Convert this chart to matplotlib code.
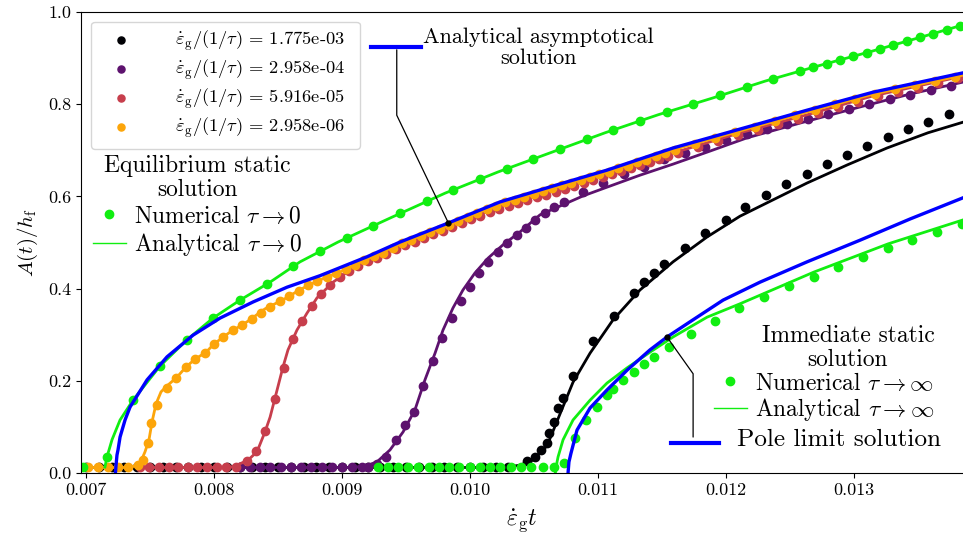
import numpy as np
import matplotlib
matplotlib.use("Agg")
import matplotlib.pyplot as plt
from matplotlib.lines import Line2D
from matplotlib.ticker import FormatStrFormatter

plt.rcParams.update({
    "font.family": "serif",
    "font.serif": ["cmr10"],
    "mathtext.fontset": "cm",
    "axes.unicode_minus": False,
    "font.size": 14,
})

# all strain values (x) are written in units of 1e-3
rates = ["1.775e-03", "2.958e-04", "5.916e-05", "2.958e-06"]

# --- 1.775e-03 (black)
black_num_t = [7.0, 7.1, 7.2, 7.3, 7.4, 7.5, 7.6, 7.7, 7.8, 7.9, 8.0, 8.1, 8.2, 8.3, 8.4, 8.5,
               8.6, 8.7, 8.8, 8.9, 9.0, 9.1, 9.2, 9.3, 9.4, 9.5, 9.6, 9.7, 9.8, 9.9, 10.0, 10.1,
               10.2, 10.3, 10.443, 10.508, 10.555, 10.599, 10.620, 10.656, 10.690, 10.724, 10.802,
               10.959, 11.125, 11.284, 11.362, 11.440, 11.518, 11.680, 11.836, 11.998, 12.148,
               12.310, 12.469, 12.630, 12.787, 12.948, 13.104, 13.263, 13.424, 13.580, 13.742]
black_num_A = [0.012, 0.012, 0.012, 0.012, 0.012, 0.012, 0.012, 0.012, 0.012, 0.012, 0.012,
               0.012, 0.012, 0.012, 0.012, 0.012, 0.012, 0.012, 0.012, 0.012, 0.012, 0.012,
               0.012, 0.012, 0.012, 0.012, 0.012, 0.012, 0.012, 0.012, 0.012, 0.012, 0.012,
               0.012, 0.025, 0.035, 0.050, 0.064, 0.087, 0.111, 0.140, 0.162, 0.210, 0.287,
               0.340, 0.391, 0.415, 0.433, 0.453, 0.487, 0.520, 0.549, 0.576, 0.603, 0.626,
               0.649, 0.670, 0.690, 0.709, 0.728, 0.746, 0.762, 0.778]
black_ana_t = [6.96, 10.273, 10.391, 10.492, 10.602, 10.703, 10.805, 10.938, 11.117, 11.328,
               11.586, 11.852, 12.109, 12.633, 12.945, 13.258, 13.578, 13.852]
black_ana_A = [0.012, 0.012, 0.017, 0.028, 0.059, 0.128, 0.197, 0.260, 0.332, 0.397, 0.458,
               0.512, 0.557, 0.629, 0.668, 0.705, 0.738, 0.761]

# --- 2.958e-04 (purple)
purple_num_t = [8.20, 8.28, 8.36, 8.44, 8.52, 8.60, 8.68, 8.76, 8.84, 8.92, 9.00, 9.08, 9.16,
                9.203, 9.273, 9.344, 9.422, 9.492, 9.563, 9.633, 9.711, 9.781, 9.859, 9.930,
                10.000, 10.070, 10.141, 10.219, 10.289, 10.367, 10.438, 10.508, 10.586, 10.656,
                10.734, 10.883, 11.039, 11.203, 11.359, 11.516, 11.680, 11.836, 11.998, 12.164,
                12.320, 12.477, 12.641, 12.797, 12.961, 13.117, 13.281, 13.438, 13.602, 13.758]
purple_num_A = [0.012, 0.012, 0.012, 0.012, 0.012, 0.012, 0.012, 0.012, 0.012, 0.012, 0.012,
                0.012, 0.012, 0.013, 0.020, 0.035, 0.072, 0.104, 0.132, 0.189, 0.243, 0.293,
                0.336, 0.373, 0.403, 0.434, 0.458, 0.479, 0.499, 0.516, 0.531, 0.549, 0.564,
                0.577, 0.588, 0.610, 0.629, 0.649, 0.664, 0.681, 0.694, 0.707, 0.722, 0.735,
                0.746, 0.757, 0.768, 0.779, 0.790, 0.800, 0.811, 0.820, 0.831, 0.839]
purple_ana_t = [8.15, 9.063, 9.180, 9.273, 9.375, 9.477, 9.570, 9.648, 9.727, 9.789, 9.867,
                9.945, 10.039, 10.141, 10.258, 10.391, 10.547, 10.703, 10.883, 11.070, 11.328,
                11.586, 11.852, 12.164, 12.578, 13.047, 13.438, 13.852]
purple_ana_A = [0.012, 0.012, 0.015, 0.024, 0.050, 0.089, 0.137, 0.202, 0.260, 0.310, 0.358,
                0.397, 0.434, 0.466, 0.495, 0.523, 0.560, 0.579, 0.601, 0.620, 0.646, 0.670,
                0.696, 0.727, 0.759, 0.794, 0.822, 0.848]

# --- 5.916e-05 (red)
red_num_t = [7.42, 7.495, 7.57, 7.645, 7.72, 7.795, 7.87, 7.945, 8.02, 8.095, 8.17,
             8.255, 8.328, 8.401, 8.473, 8.546, 8.619, 8.691, 8.764, 8.837, 8.909, 8.982,
             9.055, 9.127, 9.200, 9.273, 9.347, 9.420, 9.494, 9.567, 9.641, 9.714, 9.788,
             9.861, 9.934, 10.008, 10.081, 10.155, 10.228, 10.302, 10.375, 10.448, 10.522,
             10.595, 10.669, 10.742, 10.816, 10.889, 10.963, 11.036, 11.109, 11.183, 11.256,
             11.330, 11.403, 11.477, 11.550, 11.623, 11.781, 11.938, 12.094, 12.250, 12.406,
             12.563, 12.719, 12.875, 13.031, 13.188, 13.344, 13.500, 13.656, 13.813]
red_num_A = [0.012, 0.012, 0.012, 0.012, 0.012, 0.012, 0.012, 0.012, 0.012, 0.012, 0.012,
             0.025, 0.047, 0.091, 0.160, 0.228, 0.290, 0.330, 0.363, 0.388, 0.408, 0.425,
             0.439, 0.450, 0.460, 0.467, 0.476, 0.485, 0.494, 0.502, 0.510, 0.518, 0.526,
             0.534, 0.542, 0.550, 0.558, 0.566, 0.573, 0.580, 0.586, 0.592, 0.598, 0.604,
             0.610, 0.617, 0.623, 0.630, 0.636, 0.643, 0.649, 0.655, 0.662, 0.669, 0.675,
             0.682, 0.688, 0.694, 0.707, 0.720, 0.733, 0.745, 0.757, 0.768, 0.781, 0.793,
             0.805, 0.817, 0.827, 0.836, 0.846, 0.856]
red_ana_t = [7.40, 8.125, 8.203, 8.266, 8.336, 8.398, 8.438, 8.477, 8.539, 8.578, 8.648,
             8.727, 8.805, 8.930, 9.063, 9.195, 9.453, 9.828, 10.234, 10.703, 11.070, 11.586,
             12.109, 12.633, 13.148, 13.852]
red_ana_A = [0.012, 0.012, 0.020, 0.028, 0.046, 0.089, 0.121, 0.163, 0.230, 0.267, 0.310,
             0.347, 0.380, 0.414, 0.440, 0.460, 0.492, 0.534, 0.577, 0.616, 0.649, 0.694,
             0.738, 0.777, 0.818, 0.861]

# --- 2.958e-06 (orange)
orange_num_t = [7.016, 7.094, 7.172, 7.250, 7.328, 7.406, 7.445, 7.484, 7.508, 7.555, 7.633,
                7.706, 7.780, 7.853, 7.927, 8.000, 8.073, 8.147, 8.220, 8.294, 8.367, 8.441,
                8.514, 8.588, 8.661, 8.734, 8.808, 8.881, 8.955, 9.028, 9.102, 9.175, 9.248,
                9.322, 9.395, 9.469, 9.542, 9.616, 9.689, 9.763, 9.836, 9.909, 9.983, 10.056,
                10.130, 10.203, 10.277, 10.350, 10.423, 10.497, 10.570, 10.644, 10.717, 10.791,
                10.864, 10.938, 11.011, 11.084, 11.158, 11.231, 11.305, 11.378, 11.452, 11.525,
                11.598, 11.758, 11.914, 12.070, 12.227, 12.383, 12.539, 12.695, 12.852, 13.008,
                13.164, 13.320, 13.477, 13.633, 13.789]
orange_num_A = [0.012, 0.012, 0.012, 0.012, 0.012, 0.017, 0.028, 0.065, 0.108, 0.148, 0.184,
                0.207, 0.229, 0.247, 0.260, 0.280, 0.295, 0.310, 0.321, 0.333, 0.348, 0.361,
                0.373, 0.384, 0.395, 0.407, 0.416, 0.425, 0.433, 0.442, 0.452, 0.462, 0.470,
                0.478, 0.487, 0.498, 0.506, 0.514, 0.522, 0.530, 0.539, 0.547, 0.555, 0.563,
                0.572, 0.580, 0.587, 0.593, 0.599, 0.605, 0.611, 0.618, 0.624, 0.630, 0.636,
                0.642, 0.648, 0.654, 0.661, 0.667, 0.674, 0.680, 0.687, 0.694, 0.700, 0.714,
                0.726, 0.739, 0.751, 0.763, 0.776, 0.788, 0.800, 0.811, 0.823, 0.832, 0.841,
                0.851, 0.860]
orange_ana_t = [6.96, 7.344, 7.398, 7.430, 7.461, 7.492, 7.516, 7.547, 7.586, 7.633, 7.711,
                7.781, 7.852, 7.938, 8.000, 8.117, 8.258, 8.398, 8.547, 8.680, 8.828, 8.984,
                9.195, 9.453, 9.828, 10.234, 10.703, 11.070, 11.586, 12.109, 12.633, 13.148,
                13.852]
orange_ana_A = [0.012, 0.012, 0.017, 0.026, 0.046, 0.072, 0.111, 0.150, 0.176, 0.189, 0.208,
                0.230, 0.247, 0.262, 0.280, 0.304, 0.328, 0.356, 0.377, 0.399, 0.419, 0.436,
                0.464, 0.497, 0.538, 0.584, 0.623, 0.653, 0.701, 0.742, 0.783, 0.822, 0.863]

# --- equilibrium static solution (tau -> 0)
eq_num_t = [6.977, 7.164, 7.367, 7.578, 7.789, 7.992, 8.203, 8.414, 8.617, 8.828, 9.039,
            9.242, 9.453, 9.664, 9.867, 10.078, 10.289, 10.492, 10.703, 10.914, 11.117,
            11.328, 11.539, 11.742, 11.953, 12.164, 12.367, 12.578, 12.680, 12.789, 12.891,
            12.992, 13.102, 13.203, 13.305, 13.414, 13.516, 13.617, 13.727, 13.828]
eq_num_A = [0.012, 0.035, 0.158, 0.232, 0.289, 0.336, 0.375, 0.410, 0.448, 0.481, 0.510,
            0.536, 0.563, 0.589, 0.614, 0.637, 0.660, 0.681, 0.702, 0.724, 0.744, 0.764,
            0.783, 0.800, 0.819, 0.837, 0.855, 0.872, 0.880, 0.888, 0.896, 0.904, 0.912,
            0.920, 0.928, 0.937, 0.945, 0.953, 0.962, 0.970]
eq_ana_t = [7.148, 7.164, 7.203, 7.266, 7.367, 7.578, 7.789, 7.992, 8.203, 8.438, 8.672,
            8.969, 9.391, 9.805, 10.219, 10.641, 11.055, 11.469, 11.891, 12.305, 12.719,
            13.141, 13.555, 13.852]
eq_ana_A = [0.013, 0.035, 0.072, 0.115, 0.158, 0.232, 0.289, 0.336, 0.375, 0.414, 0.458,
            0.501, 0.555, 0.607, 0.653, 0.696, 0.738, 0.777, 0.813, 0.850, 0.883, 0.915,
            0.948, 0.972]

# --- immediate static solution (tau -> inf)
im_num_t = [9.281, 9.359, 9.438, 9.516, 9.594, 9.680, 9.758, 9.836, 9.914, 10.000, 10.078,
            10.156, 10.234, 10.320, 10.398, 10.477, 10.570, 10.656, 10.734, 10.820, 10.906,
            10.990, 11.068, 11.120, 11.198, 11.281, 11.359, 11.440, 11.557, 11.724, 11.914,
            12.104, 12.299, 12.495, 12.688, 12.877, 13.073, 13.263, 13.455, 13.651, 13.841]
im_num_A = [0.012, 0.012, 0.012, 0.012, 0.012, 0.012, 0.012, 0.012, 0.012, 0.012, 0.012,
            0.012, 0.012, 0.012, 0.012, 0.012, 0.012, 0.012, 0.021, 0.075, 0.115, 0.144,
            0.169, 0.182, 0.202, 0.220, 0.236, 0.252, 0.274, 0.301, 0.330, 0.357, 0.381,
            0.405, 0.426, 0.447, 0.468, 0.487, 0.505, 0.523, 0.541]
im_ana_t = [10.668, 10.672, 10.680, 10.688, 10.727, 10.805, 10.938, 11.070, 11.227, 11.406,
            11.586, 11.852, 12.109, 12.688, 13.266, 13.852]
im_ana_A = [0.002, 0.007, 0.024, 0.035, 0.072, 0.115, 0.158, 0.195, 0.228, 0.262, 0.295,
            0.338, 0.367, 0.436, 0.497, 0.549]

# --- analytical asymptotical solution and pole limit solution
asym_t = [7.230, 7.234, 7.242, 7.250, 7.266, 7.305, 7.344, 7.477, 7.633, 7.836, 8.047, 8.305,
          8.570, 8.828, 9.195, 9.453, 9.828, 10.234, 10.703, 11.070, 11.586, 12.109, 12.633,
          13.148, 13.852]
asym_A = [0.000, 0.015, 0.039, 0.050, 0.078, 0.115, 0.143, 0.202, 0.252, 0.299, 0.336, 0.371,
          0.403, 0.428, 0.469, 0.501, 0.542, 0.588, 0.627, 0.657, 0.705, 0.746, 0.787, 0.826,
          0.868]
pole_t = [10.766, 10.773, 10.789, 10.836, 10.938, 11.070, 11.227, 11.406, 11.539, 11.719,
          11.977, 12.266, 12.633, 13.047, 13.438, 13.852]
pole_A = [0.000, 0.024, 0.043, 0.093, 0.141, 0.180, 0.223, 0.267, 0.295, 0.328, 0.375, 0.414,
          0.458, 0.505, 0.551, 0.597]

asym_mark = (9.830, 0.543)
pole_mark = (11.539, 0.295)

T = 1e-3
GREEN = "#11ee11"
colors = plt.cm.inferno(np.linspace(0, 0.8, 4))

fig = plt.figure(figsize=(9.63, 5.36), dpi=100)
ax = fig.add_axes([81 / 963, 63 / 536, 882 / 963, 461 / 536])

series = [
    (black_num_t, black_num_A, black_ana_t, black_ana_A),
    (purple_num_t, purple_num_A, purple_ana_t, purple_ana_A),
    (red_num_t, red_num_A, red_ana_t, red_ana_A),
    (orange_num_t, orange_num_A, orange_ana_t, orange_ana_A),
]
handles = []
for c, rate, (nt, nA, at, aA) in zip(colors, rates, series):
    h, = ax.plot(np.array(nt) * T, nA, "o", ms=6, color=c,
                 label=r"$\dot{\varepsilon}_\mathrm{g}/(1/\tau)$ = " + rate)
    ax.plot(np.array(at) * T, aA, "-", lw=2, color=c)
    handles.append(h)

ax.plot(np.array(eq_num_t) * T, eq_num_A, "o", ms=6, color=GREEN)
ax.plot(np.array(eq_ana_t) * T, eq_ana_A, "-", lw=2, color=GREEN)
ax.plot(np.array(im_num_t) * T, im_num_A, "o", ms=6, color=GREEN)
ax.plot(np.array(im_ana_t) * T, im_ana_A, "-", lw=2, color=GREEN)
ax.plot(np.array(asym_t) * T, asym_A, "-", lw=2.4, color="blue")
ax.plot(np.array(pole_t) * T, pole_A, "-", lw=2.4, color="blue")

ax.set_xlim(0.0069609, 0.0138516)
ax.set_ylim(0, 1.0)
ax.xaxis.set_major_formatter(FormatStrFormatter("%.3f"))
ax.yaxis.set_major_formatter(FormatStrFormatter("%.1f"))
ax.tick_params(labelsize=13)
ax.spines["right"].set_visible(False)
ax.set_xlabel(r"$\dot{\varepsilon}_\mathrm{g}t$", fontsize=17, labelpad=7)
ax.set_ylabel(r"$A(t)/h_\mathrm{f}$", fontsize=15, labelpad=6)

# framed legend stretched to the width seen in the figure
leg1 = ax.legend(handles=handles, loc="upper left", mode="expand",
                 bbox_to_anchor=(0.0113, 0.70, 0.305, 0.279), borderaxespad=0,
                 fontsize=13.3, handlelength=2.4, handletextpad=1.75, labelspacing=0.22,
                 markerscale=0.85)
ax.add_artist(leg1)

dot = Line2D([], [], ls="none", marker="o", ms=6, color=GREEN)
thin = Line2D([], [], lw=1, color=GREEN)
leg_kw = dict(frameon=False, fontsize=16.9, title_fontsize=16.9, loc="upper left",
              handlelength=1.4, handletextpad=0.35, borderpad=0, borderaxespad=0)
leg2 = ax.legend([dot, thin], [r"Numerical $\tau\to 0$", r"Analytical $\tau\to 0$"],
                 title="Equilibrium static\nsolution", bbox_to_anchor=(0.0136, 0.69),
                 labelspacing=0.16, **leg_kw)
ax.add_artist(leg2)

leg3 = ax.legend([dot, thin], [r"Numerical $\tau\to\infty$", r"Analytical $\tau\to\infty$"],
                 title="Immediate static\nsolution", bbox_to_anchor=(0.7177, 0.322),
                 alignment="right", labelspacing=0.05, **leg_kw)
for lg in (leg2, leg3):
    lg.get_title().set_multialignment("center")
    lg.get_title().set_linespacing(1.1)

# annotation boxes
ax.add_line(Line2D([0.3292, 0.3851], [0.9247, 0.9247], color="blue", lw=3,
                   transform=ax.transAxes))
ax.text(0.519, 0.922, "Analytical asymptotical\nsolution", transform=ax.transAxes,
        ha="center", va="center", ma="center", fontsize=16, linespacing=1.1)
ax.add_line(Line2D([0.6689, 0.7234], [0.0644, 0.0644], color="blue", lw=3,
                   transform=ax.transAxes))
ax.text(0.7438, 0.0716, "Pole limit solution", transform=ax.transAxes,
        ha="left", va="center", fontsize=18.2)

for mark, start, angB in [(asym_mark, (0.358, 0.918), 115.6),
                          (pole_mark, (0.694, 0.078), -54.6)]:
    ax.plot(mark[0] * T, mark[1], "o", ms=3.5, color="k", zorder=5)
    ax.annotate("", xy=(mark[0] * T, mark[1]), xytext=start, textcoords="axes fraction",
                arrowprops=dict(arrowstyle="-", color="k", lw=0.9, shrinkA=0, shrinkB=0,
                                connectionstyle="angle,angleA=90,angleB=%g,rad=0" % angB))

fig.savefig("out.png", dpi=100)
